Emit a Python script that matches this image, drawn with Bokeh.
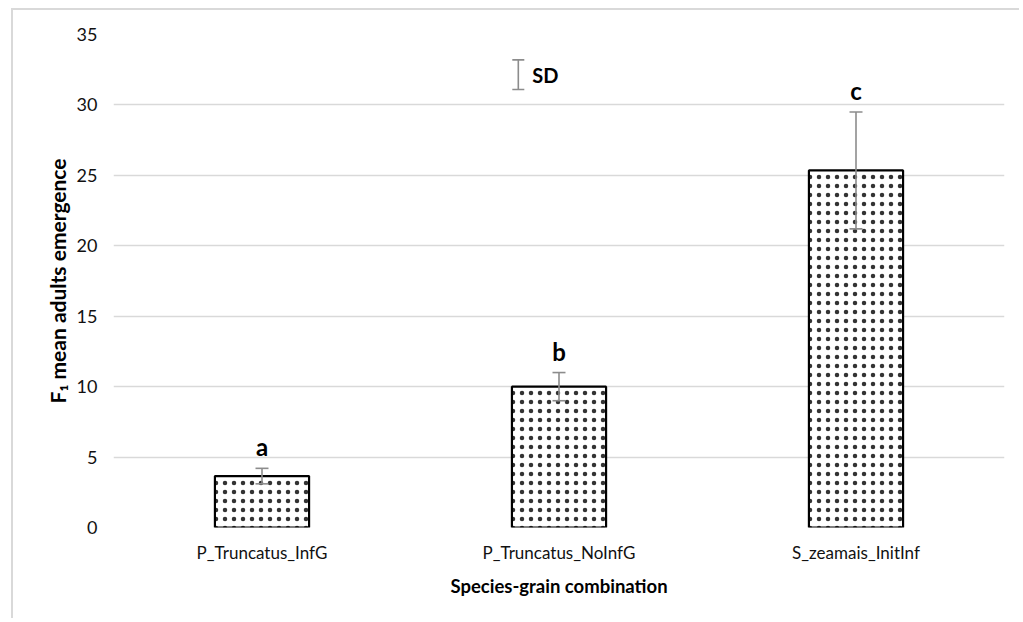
from bokeh.plotting import figure
from bokeh.models import (ColumnDataSource, Whisker, TeeHead, FactorRange, Range1d,
                          LabelSet, FixedTicker)
from bokeh.core.properties import value
from bokeh.embed import file_html
from bokeh.resources import INLINE

categories = ["P_Truncatus_InfG", "P_Truncatus_NoInfG", "S_zeamais_InitInf"]
means = [3.65, 10.0, 25.35]
sds = [0.55, 1.0, 4.15]
letters = ["a", "b", "c"]
y_ticks = [0, 5, 10, 15, 20, 25, 30, 35]
sd_legend_center = 32.15
sd_legend_half = 1.05

FONT = "Lato"

src = ColumnDataSource(dict(
    cat=categories,
    mean=means,
    lower=[m - s for m, s in zip(means, sds)],
    upper=[m + s for m, s in zip(means, sds)],
    letter=letters,
))

p = figure(width=1008, height=610, output_backend="svg", toolbar_location=None,
           x_range=FactorRange(factors=categories, range_padding=0),
           y_range=Range1d(0, 35),
           min_border_left=100, min_border_right=17, min_border_top=24, min_border_bottom=93)
p.margin = (8, 0, 0, 11)
p.styles = {"border-left": "2px solid #d9d9d9", "border-top": "2px solid #d9d9d9"}

p.outline_line_color = None
p.xgrid.grid_line_color = None
p.ygrid.grid_line_color = "#d9d9d9"
p.ygrid.grid_line_width = 1.3
p.yaxis.ticker = FixedTicker(ticks=y_ticks)

for ax in (p.xaxis[0], p.yaxis[0]):
    ax.axis_line_color = None
    ax.major_tick_line_color = None
    ax.minor_tick_line_color = None
    ax.major_label_text_font = FONT
    ax.major_label_text_color = "#111111"
    ax.axis_label_text_font = FONT
    ax.axis_label_text_font_style = "bold"
    ax.axis_label_text_color = "#000000"

p.yaxis.major_label_text_font_size = "18px"
p.xaxis.major_label_text_font_size = "17px"
p.yaxis.axis_label_text_font_size = "21px"
p.xaxis.axis_label_text_font_size = "18.5px"

p.yaxis.axis_label = "F\u2081 mean adults emergence"
p.yaxis.major_label_standoff = 10
p.yaxis.axis_label_standoff = 4
p.xaxis.axis_label = "Species-grain combination"
p.xaxis.major_label_standoff = 8
p.xaxis.axis_label_standoff = 9

p.vbar(x="cat", top="mean", width=0.317, source=src,
       fill_color="white", line_color="black", line_width=2.2,
       hatch_pattern="dot", hatch_color="#333333", hatch_scale=9, hatch_weight=0.8)

p.add_layout(Whisker(base="cat", lower="lower", upper="upper", source=src,
                     line_color="#8c8c8c", line_width=1.6, level="overlay",
                     upper_head=TeeHead(size=13, line_color="#8c8c8c", line_width=1.6),
                     lower_head=TeeHead(size=13, line_color="#8c8c8c", line_width=1.6)))

p.add_layout(LabelSet(x="cat", y="upper", text="letter", source=src,
                      text_align="center", text_baseline="bottom", y_offset=7,
                      text_font=value(FONT), text_font_size="24px",
                      text_font_style="bold", text_color="#000000"))

# SD key
sd_src = ColumnDataSource(dict(
    x=[(categories[1], -0.137)],
    lo=[sd_legend_center - sd_legend_half],
    hi=[sd_legend_center + sd_legend_half],
    tx=[(categories[1], -0.09)],
    ty=[sd_legend_center],
    t=["SD"],
))
p.add_layout(Whisker(base="x", lower="lo", upper="hi", source=sd_src,
                     line_color="#8c8c8c", line_width=1.6, level="overlay",
                     upper_head=TeeHead(size=12, line_color="#8c8c8c", line_width=1.6),
                     lower_head=TeeHead(size=12, line_color="#8c8c8c", line_width=1.6)))
p.text(x="tx", y="ty", text="t", source=sd_src, text_align="left", text_baseline="middle",
       text_font=value(FONT), text_font_size="20px", text_font_style="bold", text_color="#000000")

open("out.html", "w").write(file_html(p, INLINE))
